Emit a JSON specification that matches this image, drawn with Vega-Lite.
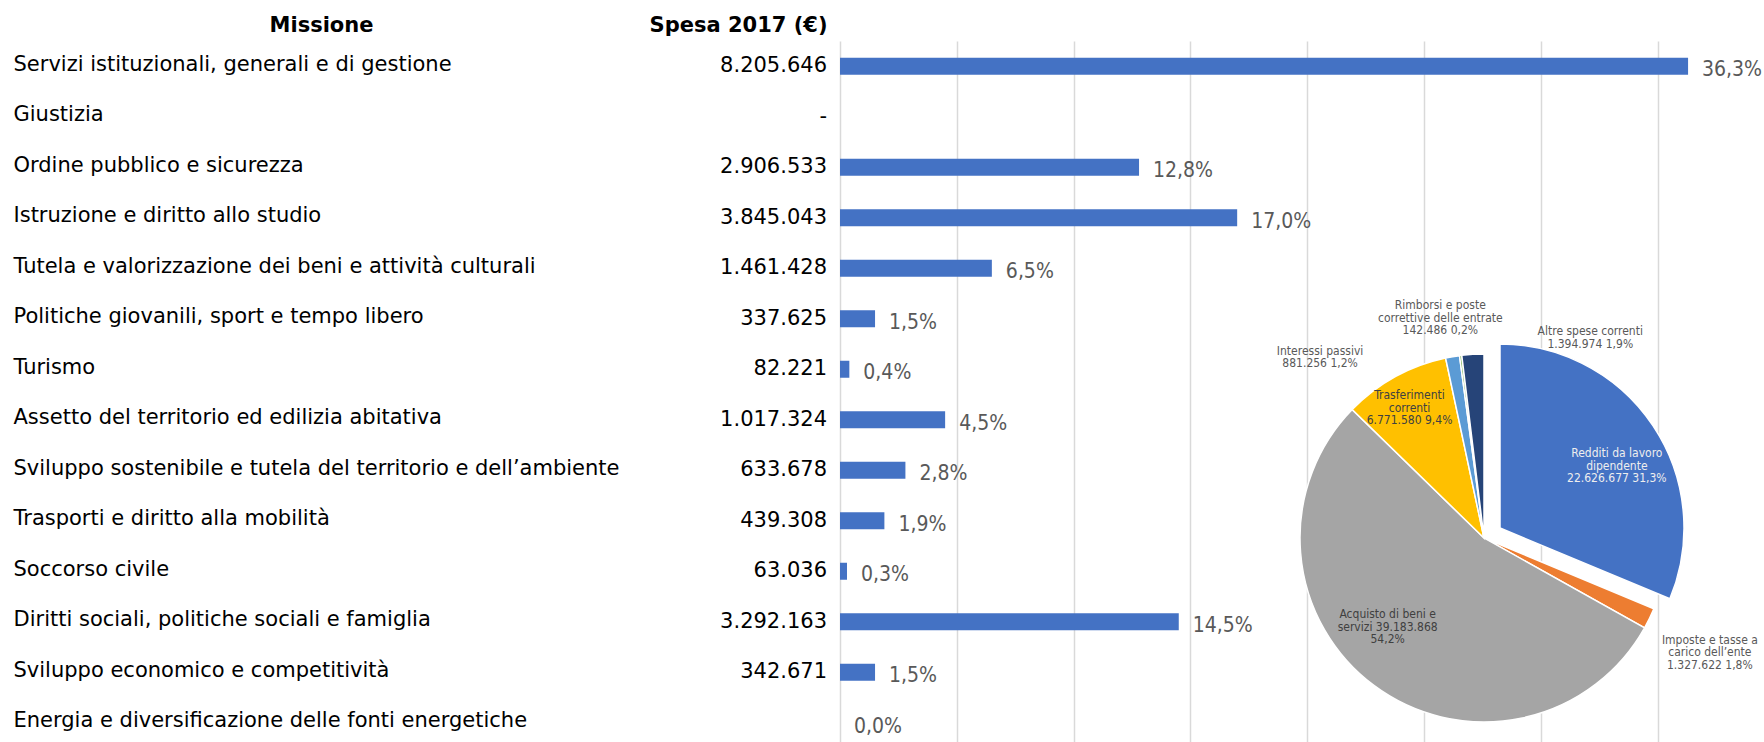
{
  "$schema": "https://vega.github.io/schema/vega-lite/v6.json",
  "width": 924,
  "height": 707,
  "autosize": {"type": "none"},
  "padding": {"left": 840, "top": 41, "right": 0, "bottom": 0},
  "background": "white",
  "config": {
    "locale": {"number": {"decimal": ",", "thousands": ".", "grouping": [3], "currency": ["", " €"]}},
    "view": {"stroke": null}
  },
  "datasets": {
    "missioni": [
      {"missione": "Servizi istituzionali, generali e di gestione", "spesa": 8205646, "pct": 0.363},
      {"missione": "Giustizia", "spesa": 0, "pct": null},
      {"missione": "Ordine pubblico e sicurezza", "spesa": 2906533, "pct": 0.128},
      {"missione": "Istruzione e diritto allo studio", "spesa": 3845043, "pct": 0.170},
      {"missione": "Tutela e valorizzazione dei beni e attività culturali", "spesa": 1461428, "pct": 0.065},
      {"missione": "Politiche giovanili, sport e tempo libero", "spesa": 337625, "pct": 0.015},
      {"missione": "Turismo", "spesa": 82221, "pct": 0.004},
      {"missione": "Assetto del territorio ed edilizia abitativa", "spesa": 1017324, "pct": 0.045},
      {"missione": "Sviluppo sostenibile e tutela del territorio e dell’ambiente", "spesa": 633678, "pct": 0.028},
      {"missione": "Trasporti e diritto alla mobilità", "spesa": 439308, "pct": 0.019},
      {"missione": "Soccorso civile", "spesa": 63036, "pct": 0.003},
      {"missione": "Diritti sociali, politiche sociali e famiglia", "spesa": 3292163, "pct": 0.145},
      {"missione": "Sviluppo economico e competitività", "spesa": 342671, "pct": 0.015},
      {"missione": "Energia e diversificazione delle fonti energetiche", "spesa": null, "pct": 0.0}
    ],
    "spese": [
      {"ord": 1, "voce": "Redditi da lavoro dipendente", "value": 22626677, "pct": 0.313, "label": "Redditi da lavoro\ndipendente\n22.626.677  31,3%"},
      {"ord": 2, "voce": "Imposte e tasse a carico dell’ente", "value": 1327622, "pct": 0.018, "label": "Imposte e tasse a\ncarico dell’ente\n1.327.622  1,8%"},
      {"ord": 3, "voce": "Acquisto di beni e servizi", "value": 39183868, "pct": 0.542, "label": "Acquisto di beni e\nservizi  39.183.868\n54,2%"},
      {"ord": 4, "voce": "Trasferimenti correnti", "value": 6771580, "pct": 0.094, "label": "Trasferimenti\ncorrenti\n6.771.580  9,4%"},
      {"ord": 5, "voce": "Interessi passivi", "value": 881256, "pct": 0.012, "label": "Interessi passivi\n881.256  1,2%"},
      {"ord": 6, "voce": "Rimborsi e poste correttive delle entrate", "value": 142486, "pct": 0.002, "label": "Rimborsi e poste\ncorrettive delle entrate\n142.486  0,2%"},
      {"ord": 7, "voce": "Altre spese correnti", "value": 1394974, "pct": 0.019, "label": "Altre spese correnti\n1.394.974  1,9%"}
    ]
  },
  "layer": [
    {
      "data": {"name": "missioni"},
      "mark": {"type": "text", "align": "right", "baseline": "middle", "dx": -13, "font": "DejaVu Sans", "fontSize": 21, "color": "#000000"},
      "encoding": {
        "y": {
          "field": "missione", "type": "nominal", "sort": null,
          "scale": {"paddingInner": 0, "paddingOuter": 0},
          "axis": {
            "title": "Missione", "orient": "left", "ticks": false, "tickSize": 0, "domain": false, "grid": false,
            "labelAlign": "left", "labelBaseline": "middle", "labelPadding": 827, "labelLimit": 1000,
            "labelFont": "DejaVu Sans", "labelFontSize": 21, "labelColor": "#000000", "labelOffset": -1.5,
            "titleAngle": 0, "titleX": -519, "titleY": -16, "titleAlign": "center", "titleBaseline": "middle",
            "titleFont": "DejaVu Sans", "titleFontWeight": "bold", "titleFontSize": 21, "titleColor": "#000000"
          }
        },
        "x": {"datum": 0, "type": "quantitative"},
        "text": {
          "condition": [
            {"test": "datum.spesa === null", "value": ""},
            {"test": "datum.spesa === 0", "value": "-"}
          ],
          "field": "spesa", "type": "quantitative", "format": ",d"
        }
      }
    },
    {
      "data": {"name": "missioni"},
      "mark": {"type": "bar", "height": 17, "color": "#4472C4"},
      "encoding": {
        "y": {"field": "missione", "type": "nominal", "sort": null},
        "x": {
          "field": "pct", "type": "quantitative",
          "scale": {"domain": [0, 0.3955], "nice": false, "zero": true},
          "axis": {
            "orient": "top", "title": "Spesa 2017 (€)",
            "values": [0, 0.05, 0.1, 0.15, 0.2, 0.25, 0.3, 0.35],
            "labels": false, "ticks": false, "domain": false, "grid": true,
            "gridColor": "#d9d9d9", "gridWidth": 1.5,
            "titleX": -13, "titleY": -16, "titleAlign": "right", "titleBaseline": "middle",
            "titleFont": "DejaVu Sans", "titleFontWeight": "bold", "titleFontSize": 21, "titleColor": "#000000"
          }
        }
      }
    },
    {
      "data": {"name": "missioni"},
      "mark": {"type": "text", "align": "left", "baseline": "middle", "dx": 14, "dy": 4, "font": "DejaVu Sans Condensed, DejaVu Sans", "fontSize": 21, "color": "#595959"},
      "encoding": {
        "y": {"field": "missione", "type": "nominal", "sort": null},
        "x": {"field": "pct", "type": "quantitative"},
        "text": {"field": "pct", "type": "quantitative", "format": ".1%"}
      }
    },
    {
      "data": {"name": "spese"},
      "mark": {"type": "arc", "x": 644, "y": 497, "radius": 184, "stroke": "white", "strokeWidth": 1.5},
      "encoding": {
        "theta": {"field": "value", "type": "quantitative", "stack": true},
        "order": {"field": "ord", "type": "quantitative"},
        "color": {
          "field": "voce", "type": "nominal", "sort": null, "legend": null,
          "scale": {
            "domain": ["Redditi da lavoro dipendente", "Imposte e tasse a carico dell’ente", "Acquisto di beni e servizi", "Trasferimenti correnti", "Interessi passivi", "Rimborsi e poste correttive delle entrate", "Altre spese correnti"],
            "range": ["#4472C4", "#ED7D31", "#A5A5A5", "#FFC000", "#5B9BD5", "#70AD47", "#264478"]
          }
        },
        "opacity": {"condition": {"test": "datum.voce === 'Redditi da lavoro dipendente'", "value": 0}, "value": 1}
      }
    },
    {
      "data": {"name": "spese"},
      "transform": [{"filter": "datum.voce === 'Redditi da lavoro dipendente'"}],
      "mark": {"type": "arc", "x": 660, "y": 487, "radius": 184, "stroke": "white", "strokeWidth": 1.5},
      "encoding": {
        "theta": {"field": "value", "type": "quantitative", "stack": true},
        "order": {"field": "ord", "type": "quantitative"},
        "color": {"field": "voce", "type": "nominal", "sort": null, "legend": null}
      }
    },
    {
      "data": {"name": "spese"},
      "mark": {"type": "text", "x": 644, "y": 497, "radius": 132, "dx": 23, "dy": -11.5, "font": "DejaVu Sans Condensed, DejaVu Sans", "fontSize": 12, "lineBreak": "\n", "lineHeight": 12.5, "align": "center", "baseline": "middle", "color": "#eeeeee"},
      "encoding": {
        "theta": {"field": "value", "type": "quantitative", "stack": true},
        "order": {"field": "ord", "type": "quantitative"},
        "detail": {"field": "voce", "type": "nominal"},
        "text": {"condition": {"test": "datum.voce === 'Redditi da lavoro dipendente'", "field": "label", "type": "nominal"}, "value": ""}
      }
    },
    {
      "data": {"name": "spese"},
      "mark": {"type": "text", "x": 644, "y": 497, "radius": 220, "dx": 28, "dy": 5.5, "font": "DejaVu Sans Condensed, DejaVu Sans", "fontSize": 12, "lineBreak": "\n", "lineHeight": 12.5, "align": "center", "baseline": "middle", "color": "#595959"},
      "encoding": {
        "theta": {"field": "value", "type": "quantitative", "stack": true},
        "order": {"field": "ord", "type": "quantitative"},
        "detail": {"field": "voce", "type": "nominal"},
        "text": {"condition": {"test": "datum.voce === 'Imposte e tasse a carico dell’ente'", "field": "label", "type": "nominal"}, "value": ""}
      }
    },
    {
      "data": {"name": "spese"},
      "mark": {"type": "text", "x": 644, "y": 497, "radius": 131, "dx": -18, "dy": -28.5, "font": "DejaVu Sans Condensed, DejaVu Sans", "fontSize": 12, "lineBreak": "\n", "lineHeight": 12.5, "align": "center", "baseline": "middle", "color": "#404040"},
      "encoding": {
        "theta": {"field": "value", "type": "quantitative", "stack": true},
        "order": {"field": "ord", "type": "quantitative"},
        "detail": {"field": "voce", "type": "nominal"},
        "text": {"condition": {"test": "datum.voce === 'Acquisto di beni e servizi'", "field": "label", "type": "nominal"}, "value": ""}
      }
    },
    {
      "data": {"name": "spese"},
      "mark": {"type": "text", "x": 644, "y": 497, "radius": 150, "dx": -2, "dy": -11.5, "font": "DejaVu Sans Condensed, DejaVu Sans", "fontSize": 12, "lineBreak": "\n", "lineHeight": 12.5, "align": "center", "baseline": "middle", "color": "#404040"},
      "encoding": {
        "theta": {"field": "value", "type": "quantitative", "stack": true},
        "order": {"field": "ord", "type": "quantitative"},
        "detail": {"field": "voce", "type": "nominal"},
        "text": {"condition": {"test": "datum.voce === 'Trasferimenti correnti'", "field": "label", "type": "nominal"}, "value": ""}
      }
    },
    {
      "data": {"name": "spese"},
      "mark": {"type": "text", "x": 644, "y": 497, "radius": 210, "dx": -128, "dy": 19.75, "font": "DejaVu Sans Condensed, DejaVu Sans", "fontSize": 12, "lineBreak": "\n", "lineHeight": 12.5, "align": "center", "baseline": "middle", "color": "#595959"},
      "encoding": {
        "theta": {"field": "value", "type": "quantitative", "stack": true},
        "order": {"field": "ord", "type": "quantitative"},
        "detail": {"field": "voce", "type": "nominal"},
        "text": {"condition": {"test": "datum.voce === 'Interessi passivi'", "field": "label", "type": "nominal"}, "value": ""}
      }
    },
    {
      "data": {"name": "spese"},
      "mark": {"type": "text", "x": 644, "y": 497, "radius": 210, "dx": -17, "dy": -24.5, "font": "DejaVu Sans Condensed, DejaVu Sans", "fontSize": 12, "lineBreak": "\n", "lineHeight": 12.5, "align": "center", "baseline": "middle", "color": "#595959"},
      "encoding": {
        "theta": {"field": "value", "type": "quantitative", "stack": true},
        "order": {"field": "ord", "type": "quantitative"},
        "detail": {"field": "voce", "type": "nominal"},
        "text": {"condition": {"test": "datum.voce === 'Rimborsi e poste correttive delle entrate'", "field": "label", "type": "nominal"}, "value": ""}
      }
    },
    {
      "data": {"name": "spese"},
      "mark": {"type": "text", "x": 644, "y": 497, "radius": 210, "dx": 119, "dy": 2.75, "font": "DejaVu Sans Condensed, DejaVu Sans", "fontSize": 12, "lineBreak": "\n", "lineHeight": 12.5, "align": "center", "baseline": "middle", "color": "#595959"},
      "encoding": {
        "theta": {"field": "value", "type": "quantitative", "stack": true},
        "order": {"field": "ord", "type": "quantitative"},
        "detail": {"field": "voce", "type": "nominal"},
        "text": {"condition": {"test": "datum.voce === 'Altre spese correnti'", "field": "label", "type": "nominal"}, "value": ""}
      }
    }
  ]
}
